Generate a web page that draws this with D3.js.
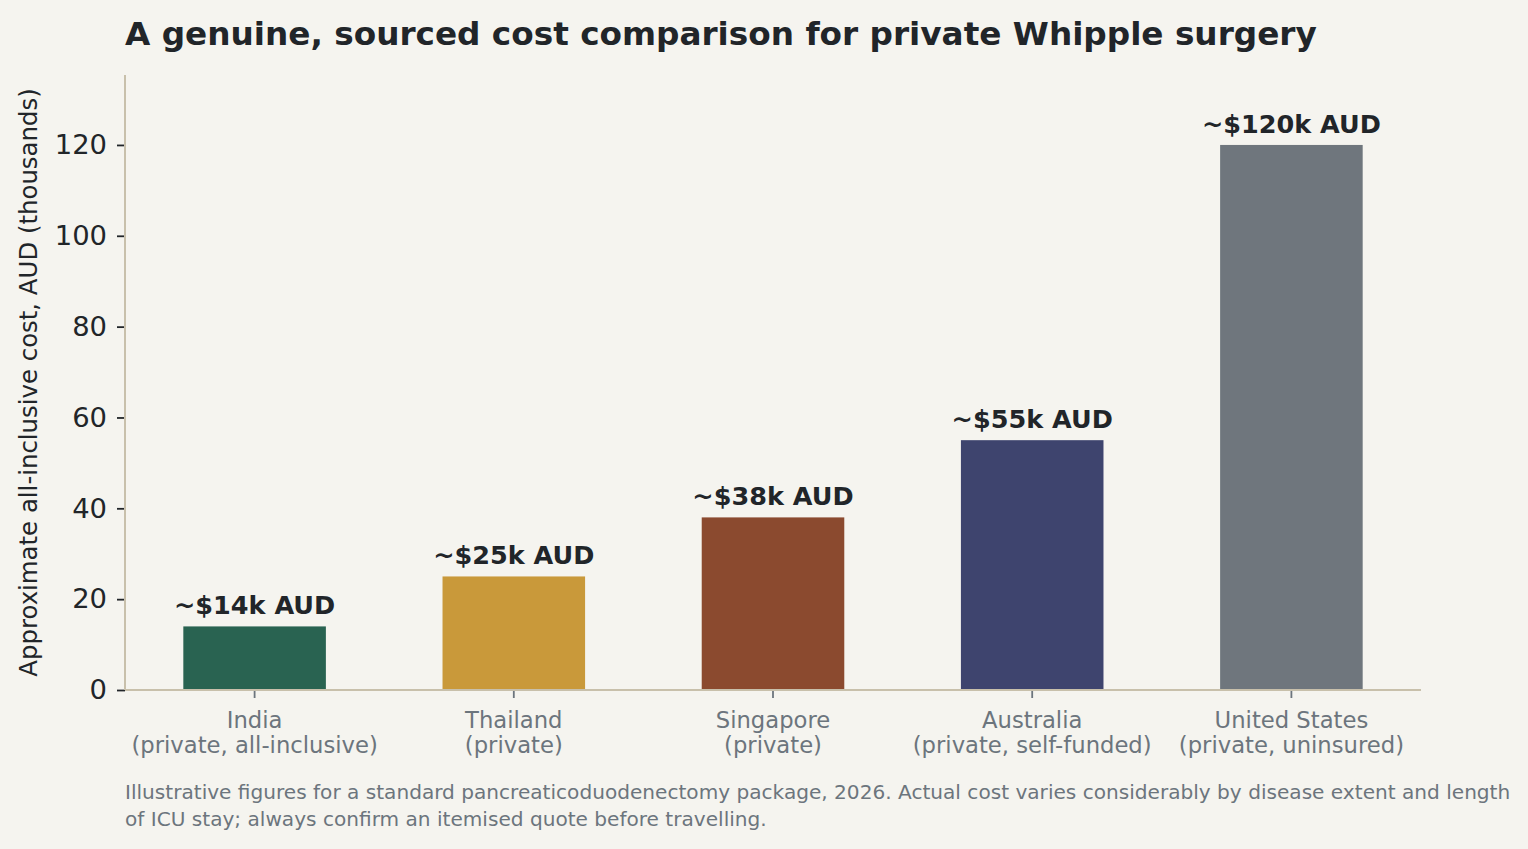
<!DOCTYPE html>
<html>
<head>
<meta charset="utf-8">
<script src="https://cdn.jsdelivr.net/npm/d3@7"></script>
<style>
  html, body { margin: 0; padding: 0; background: #f5f4ef; }
  svg { display: block; font-family: "DejaVu Sans", sans-serif; }
</style>
</head>
<body>
<svg id="chart" width="1528" height="849"></svg>
<script>
// ---- data ----
const countries = ["India", "Thailand", "Singapore", "Australia", "United States"];
const subLabels = ["(private, all-inclusive)", "(private)", "(private)", "(private, self-funded)", "(private, uninsured)"];
const costs = [14, 25, 38, 55, 120];
const valueLabels = ["~$14k AUD", "~$25k AUD", "~$38k AUD", "~$55k AUD", "~$120k AUD"];
const barColors = ["#296351", "#c9993a", "#8b4a2f", "#3e446e", "#6f767d"];
const yTicks = [0, 20, 40, 60, 80, 100, 120];
const titleText = "A genuine, sourced cost comparison for private Whipple surgery";
const yLabelText = "Approximate all-inclusive cost, AUD (thousands)";
const footLines = [
  "Illustrative figures for a standard pancreaticoduodenectomy package, 2026. Actual cost varies considerably by disease extent and length",
  "of ICU stay; always confirm an itemised quote before travelling."
];

// ---- layout ----
const W = 1528, H = 849;
const m = { left: 125, right: 1421, top: 75, bottom: 690 };
const svg = d3.select("#chart");
svg.append("rect").attr("width", W).attr("height", H).attr("fill", "#f5f4ef");

const x = d3.scaleBand().domain(countries).range([m.left, m.right])
  .paddingInner(0.45).paddingOuter(0.225);
const y = d3.scaleLinear().domain([0, 135.4]).range([m.bottom, m.top]);

// bars
svg.append("g").selectAll("rect").data(countries).join("rect")
  .attr("x", d => x(d))
  .attr("width", x.bandwidth())
  .attr("y", (d, i) => y(costs[i]))
  .attr("height", (d, i) => y(0) - y(costs[i]))
  .attr("fill", (d, i) => barColors[i]);

// value labels
svg.append("g").selectAll("text").data(countries).join("text")
  .attr("x", d => x(d) + x.bandwidth() / 2)
  .attr("y", (d, i) => y(costs[i]) - 12)
  .attr("text-anchor", "middle")
  .attr("font-size", 25.5)
  .attr("font-weight", "bold")
  .attr("fill", "#212529")
  .text((d, i) => valueLabels[i]);

// y axis
const yAxis = svg.append("g").attr("transform", `translate(${m.left},0)`)
  .call(d3.axisLeft(y).tickValues(yTicks).tickSize(8).tickPadding(10));
yAxis.select(".domain").remove();
yAxis.selectAll(".tick line").attr("stroke", "#212529").attr("stroke-width", 1.8);
yAxis.selectAll(".tick text").attr("font-size", 27.4).attr("fill", "#212529")
  .attr("font-family", "DejaVu Sans, sans-serif");

// x axis
const xAxis = svg.append("g").attr("transform", `translate(0,${m.bottom})`)
  .call(d3.axisBottom(x).tickSize(8).tickPadding(4));
xAxis.select(".domain").remove();
xAxis.selectAll(".tick line").attr("stroke", "#6c757d").attr("stroke-width", 1.8);
xAxis.selectAll(".tick text").remove();
xAxis.selectAll(".tick").each(function(d, i) {
  const t = d3.select(this).append("text")
    .attr("text-anchor", "middle")
    .attr("font-size", 22.7)
    .attr("fill", "#6c757d")
    .attr("font-family", "DejaVu Sans, sans-serif");
  t.append("tspan").attr("x", 0).attr("y", 38).text(countries[i]);
  t.append("tspan").attr("x", 0).attr("y", 63).text(subLabels[i]);
});

// spines
svg.append("line").attr("x1", m.left).attr("x2", m.left).attr("y1", m.top).attr("y2", m.bottom)
  .attr("stroke", "#c8c0ab").attr("stroke-width", 2);
svg.append("line").attr("x1", m.left).attr("x2", m.right).attr("y1", m.bottom).attr("y2", m.bottom)
  .attr("stroke", "#c8c0ab").attr("stroke-width", 2);

// title
svg.append("text").attr("x", 125).attr("y", 45)
  .attr("font-size", 32.7).attr("font-weight", "bold").attr("fill", "#212529")
  .text(titleText);

// y label
svg.append("text")
  .attr("transform", `translate(37,${(m.top + m.bottom) / 2}) rotate(-90)`)
  .attr("text-anchor", "middle")
  .attr("font-size", 24.4).attr("fill", "#212529")
  .text(yLabelText);

// footnote
svg.append("g").selectAll("text").data(footLines).join("text")
  .attr("x", 125).attr("y", (d, i) => 799 + i * 27)
  .attr("font-size", 20.1).attr("fill", "#6c757d")
  .text(d => d);
</script>
</body>
</html>
